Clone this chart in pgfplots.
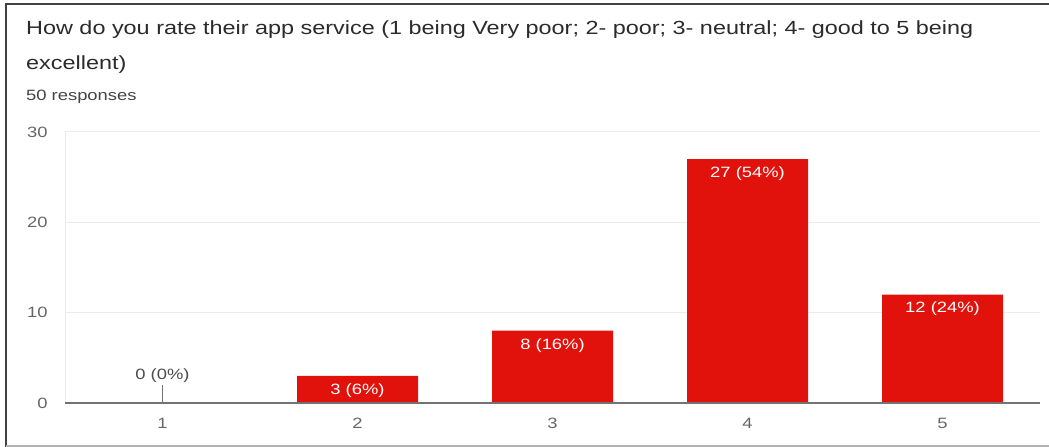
\documentclass[border=0pt]{standalone}
\usepackage{fontspec}
\setmainfont[FakeStretch=1.23]{Liberation Sans}
\usepackage{pgfplots}
\pgfplotsset{compat=1.18}
\definecolor{barred}{HTML}{E0120B}
\definecolor{gridc}{HTML}{EBEBEB}
\definecolor{titlec}{HTML}{2B2B2B}
\definecolor{subc}{HTML}{444444}
\definecolor{tickc}{HTML}{666666}
\begin{document}
\begin{tikzpicture}[x=1bp,y=1bp]
\useasboundingbox (0,0) rectangle (1049,447);
\fill[white] (0,0) rectangle (1049,447);
\draw[line width=2.5bp, color=black!75] (6,0) -- (6,443) -- (1049,443);
\draw[line width=1.5bp, color=black!30] (6,1) -- (1049,1);
\node[anchor=base west, inner sep=0pt, font=\fontsize{19.1}{23}\selectfont, text=titlec] at (26,412) {How do you rate their app service (1 being Very poor; 2- poor; 3- neutral; 4- good to 5 being};
\node[anchor=base west, inner sep=0pt, font=\fontsize{19.1}{23}\selectfont, text=titlec] at (26,377) {excellent)};
\node[anchor=base west, inner sep=0pt, font=\fontsize{15}{18}\selectfont, text=subc] at (26,346) {50 responses};
\begin{axis}[
  at={(65bp,44bp)}, anchor=south west,
  scale only axis, width=975bp, height=271bp,
  xmin=0.5, xmax=5.5, ymin=0, ymax=30,
  xtick={1,2,3,4,5}, ytick={0,10,20,30},
  axis line style={draw=none},
  major tick length=0pt,
  ymajorgrids, grid style={gridc, line width=1bp},
  tick label style={font=\fontsize{15}{18}\selectfont, text=tickc},
  yticklabel style={xshift=-14bp},
  xticklabel style={yshift=-12bp},
  /pgf/number format/assume math mode=true,
  clip=false,
]
\draw[gridc, line width=1bp] (axis cs:0.5,0) -- (axis cs:0.5,30);
\addplot[ybar, bar shift=0pt, bar width=121bp, fill=barred, draw=none,
  nodes near coords, point meta=explicit symbolic,
  every node near coord/.style={anchor=north, text=white, font=\fontsize{15}{18}\selectfont, yshift=-4bp}]
  coordinates {(2,3) [3 (6\%)] (3,8) [8 (16\%)] (4,27) [27 (54\%)] (5,12) [12 (24\%)]};
\addplot[ybar, bar shift=0pt, bar width=121bp, fill=none, draw=none,
  nodes near coords, point meta=explicit symbolic,
  every node near coord/.style={anchor=south, text=black!70, font=\fontsize{15}{18}\selectfont, yshift=17bp}]
  coordinates {(1,0) [0 (0\%)]};
\draw[black!55, line width=1bp] (axis cs:1,0) -- ++(0bp,18bp);
\draw[black!55, line width=2bp] (axis cs:0.5,0) -- (axis cs:5.5,0);
\end{axis}
\end{tikzpicture}
\end{document}
